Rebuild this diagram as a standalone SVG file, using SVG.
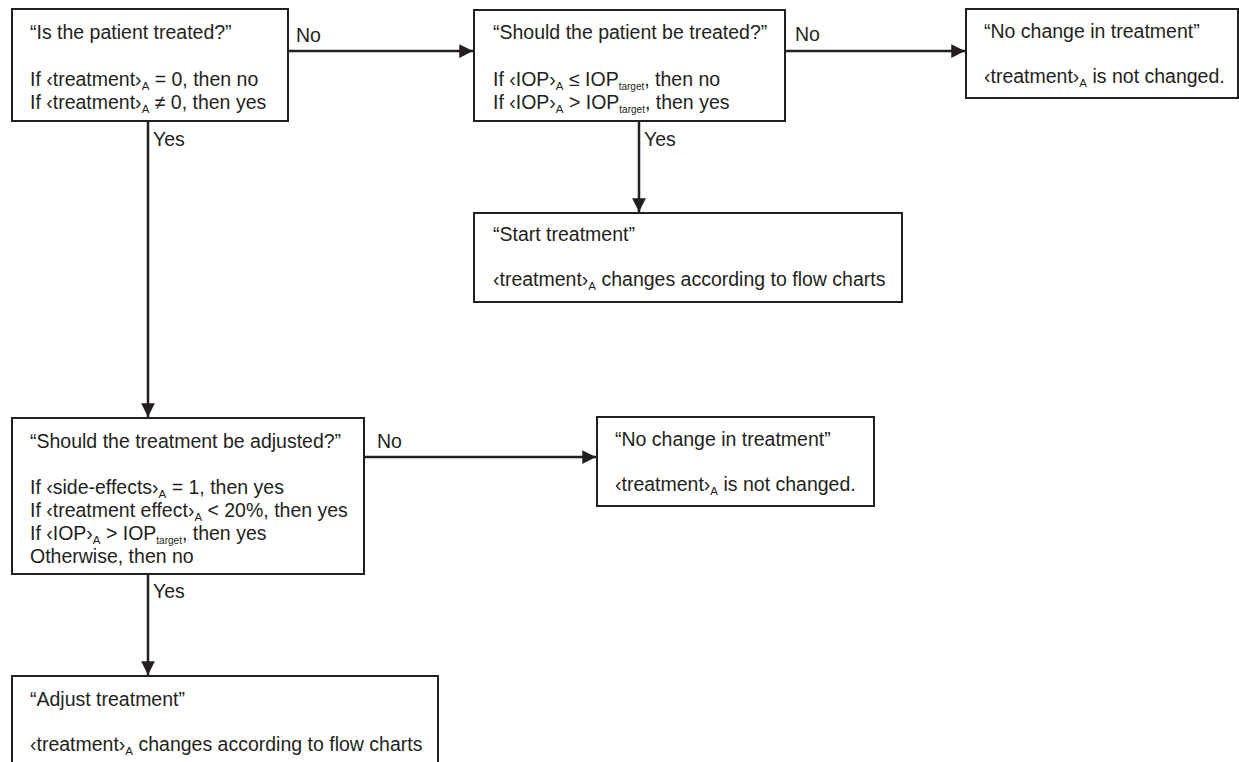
<svg xmlns="http://www.w3.org/2000/svg" width="1239" height="762" viewBox="0 0 1239 762">
<defs>
<style>
.box{fill:#fff;stroke:#231f20;stroke-width:2}
.t{font-family:"Liberation Sans",Arial,sans-serif;font-size:19.5px;fill:#231f20}
.s{font-size:11.5px}
.st{font-size:10px}
.c{stroke:#231f20;stroke-width:2.5;fill:none}
</style>
<marker id="ah" viewBox="0 0 10 10" refX="10" refY="5" markerWidth="5.5" markerHeight="5.5" markerUnits="strokeWidth" orient="auto">
<path d="M0,0L10,5L0,10z" fill="#231f20"/>
</marker>
</defs>
<rect width="1239" height="762" fill="#fff"/>
<g id="connectors">
<line class="c" x1="288" y1="51" x2="473" y2="51" marker-end="url(#ah)"/>
<line class="c" x1="785" y1="51" x2="965" y2="51" marker-end="url(#ah)"/>
<line class="c" x1="148" y1="121" x2="148" y2="417" marker-end="url(#ah)"/>
<line class="c" x1="639" y1="121" x2="639" y2="212" marker-end="url(#ah)"/>
<line class="c" x1="364" y1="457" x2="596" y2="457" marker-end="url(#ah)"/>
<line class="c" x1="148" y1="574" x2="148" y2="675" marker-end="url(#ah)"/>
<text class="t" x="296" y="42">No</text>
<text class="t" x="795" y="41">No</text>
<text class="t" x="153" y="146">Yes</text>
<text class="t" x="644" y="146">Yes</text>
<text class="t" x="377" y="448">No</text>
<text class="t" x="153" y="598">Yes</text>
</g>
<g id="n1">
<rect class="box" x="12" y="9" width="276" height="112"/>
<text class="t" x="30" y="39">“Is the patient treated?”</text>
<text class="t" x="30" y="86">If ‹treatment›<tspan class="s" dy="4">A</tspan><tspan dy="-4"> = 0, then no</tspan></text>
<text class="t" x="30" y="109">If ‹treatment›<tspan class="s" dy="4">A</tspan><tspan dy="-4"> ≠ 0, then yes</tspan></text>
</g>
<g id="n2">
<rect class="box" x="474" y="10" width="311" height="111"/>
<text class="t" x="493" y="39">“Should the patient be treated?”</text>
<text class="t" x="493" y="86">If ‹IOP›<tspan class="s" dy="4">A</tspan><tspan dy="-4"> ≤ IOP</tspan><tspan class="st" dy="4">target</tspan><tspan dy="-4">, then no</tspan></text>
<text class="t" x="493" y="109">If ‹IOP›<tspan class="s" dy="4">A</tspan><tspan dy="-4"> &gt; IOP</tspan><tspan class="st" dy="4">target</tspan><tspan dy="-4">, then yes</tspan></text>
</g>
<g id="n3">
<rect class="box" x="966" y="9" width="272" height="89"/>
<text class="t" x="984" y="38">“No change in treatment”</text>
<text class="t" x="984" y="83">‹treatment›<tspan class="s" dy="4">A</tspan><tspan dy="-4"> is not changed.</tspan></text>
</g>
<g id="n4">
<rect class="box" x="474" y="213" width="428" height="89"/>
<text class="t" x="493" y="241">“Start treatment”</text>
<text class="t" x="493" y="286">‹treatment›<tspan class="s" dy="4">A</tspan><tspan dy="-4"> changes according to flow charts</tspan></text>
</g>
<g id="n5">
<rect class="box" x="12" y="418" width="352" height="156"/>
<text class="t" x="30" y="448">“Should the treatment be adjusted?”</text>
<text class="t" x="30" y="494">If ‹side-effects›<tspan class="s" dy="4">A</tspan><tspan dy="-4"> = 1, then yes</tspan></text>
<text class="t" x="30" y="517">If ‹treatment effect›<tspan class="s" dy="4">A</tspan><tspan dy="-4"> &lt; 20%, then yes</tspan></text>
<text class="t" x="30" y="540">If ‹IOP›<tspan class="s" dy="4">A</tspan><tspan dy="-4"> &gt; IOP</tspan><tspan class="st" dy="4">target</tspan><tspan dy="-4">, then yes</tspan></text>
<text class="t" x="30" y="563">Otherwise, then no</text>
</g>
<g id="n6">
<rect class="box" x="597" y="417" width="277" height="89"/>
<text class="t" x="615" y="446">“No change in treatment”</text>
<text class="t" x="615" y="491">‹treatment›<tspan class="s" dy="4">A</tspan><tspan dy="-4"> is not changed.</tspan></text>
</g>
<g id="n7">
<rect class="box" x="12" y="676" width="426" height="100"/>
<text class="t" x="30" y="706">“Adjust treatment”</text>
<text class="t" x="30" y="751">‹treatment›<tspan class="s" dy="4">A</tspan><tspan dy="-4"> changes according to flow charts</tspan></text>
</g>
</svg>
